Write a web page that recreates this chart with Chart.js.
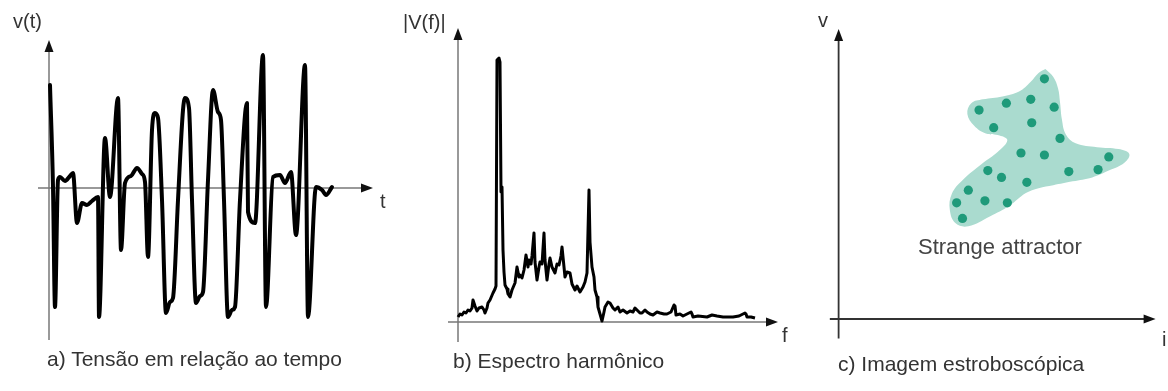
<!DOCTYPE html>
<html>
<head>
<meta charset="utf-8">
<script src="https://cdn.jsdelivr.net/npm/chart.js@4.4.1/dist/chart.umd.min.js"></script>
<style>
  html, body { margin:0; padding:0; background:#fff; }
  #wrap { position:relative; width:1168px; height:391px; overflow:hidden; background:#fff; }
  canvas { position:absolute; top:0; }
  .lbl { position:absolute; white-space:nowrap; line-height:1; font-family:"Liberation Sans", Arial, Helvetica, sans-serif; color:#333; }
</style>
</head>
<body>
<div id="wrap">
  <canvas id="cA" width="395" height="391" style="left:0px"></canvas>
  <canvas id="cB" width="400" height="391" style="left:395px"></canvas>
  <canvas id="cC" width="373" height="391" style="left:795px"></canvas>
</div>
<script>
// ---------- DATA ----------
// a) voltage vs time
const timeT = [1,4,6,9,11,16,21,24,28,33,38,43,49,50,56,61,69,72,76,82,88,93,96,99,103,106,109,113,117,121,124,129,134,136,140,143,147,151,154,159,164,169,172,175,179,183,186,191,198,199,206,214,217,224,231,236,242,247,256,259,267,273,277,283];
const timeV = [103,1,-119,8,11,7,12,15,-35,-15,-17,-13,-9,-129,50,-9,90,-62,5,12,20,14,6,-69,58,75,70,-12,-125,-114,-110,-12,78,90,80,-12,-115,-108,-104,8,98,76,68,-12,-129,-122,-119,-12,85,-24,-35,133,-119,11,13,5,16,-47,123,-129,1,-2,-7,1];
// b) harmonic spectrum
const specF = [0,2,4,6,8,10,12,14,15,17,19,21,24,26,27,29,30,32,35,37,38,39,41,42,43,44,45,46,47,49,50,52,54,57,59,61,62,64,66,68,70,71,73,74,76,77,79,81,82,84,86,87,89,91,92,94,97,99,101,103,104,106,107,109,112,114,117,119,122,125,127,129,131,132,134,136,137,139,140,142,144,146,147,150,152,155,157,160,162,165,169,172,175,177,179,182,184,187,189,192,195,199,202,206,209,213,216,217,218,222,225,229,233,234,235,240,249,254,259,265,275,281,287,288,289,293,297];
const specA = [5,8,7,10,9,12,11,14,22,16,11,14,15,12,9,14,19,22,29,33,36,262,264,260,130,135,72,50,37,33,28,25,32,39,55,45,47,44,52,67,55,62,58,66,89,60,42,55,60,58,89,62,42,58,64,55,49,58,57,66,75,55,45,50,49,38,32,36,30,35,40,49,132,80,55,45,32,25,15,8,1,10,15,20,19,14,12,15,10,12,9,11,10,14,12,9,9,12,10,8,7,10,9,8,8,10,17,16,7,8,6,8,10,8,5,6,5,7,6,5,5,6,9,8,5,5,4];
// c) stroboscopic image: attractor points and region outline
const dotI = [211,144,172,197,221,159,198,227,187,211,277,153,167,193,236,266,133,121,150,173,127];
const dotV = [246,214,221,225,217,196,201,185,170,168,166,152,145,140,151,153,132,119,121,119,103];
const blobI = [212,220,225,227,229,233,243,265,287,298,293,277,260,240,220,205,192,175,155,133,120,114,116,127,147,163,173,165,151,139,132,136,148,168,185,197,205,212];
const blobV = [256,248,236,222,204,189,180,176,174,169,160,152,145,141,137,134,129,116,105,95,98,112,128,142,159,171,183,188,190,198,210,221,225,228,233,243,252,256];
// texts
const captionA = "a) Tensão em relação ao tempo";
const captionB = "b) Espectro harmônico";
const captionC = "c) Imagem estroboscópica";
const attractorLabel = "Strange attractor";
const axisLabels = ["v(t)", "t", "|V(f)|", "f", "v", "i"];

// ---------- helpers ----------
const xy = (xs, ys) => xs.map((x, i) => ({x, y: ys[i]}));

const arrowAxes = {
  id: 'arrowAxes',
  beforeDatasetsDraw(chart, args, o) {
    const {ctx, scales:{x, y}} = chart;
    const x0 = x.getPixelForValue(0), y0 = y.getPixelForValue(0);
    const xa = x.getPixelForValue(o.xFrom), xb = x.getPixelForValue(o.xTo);
    const ya = y.getPixelForValue(o.yFrom), yb = y.getPixelForValue(o.yTo);
    ctx.save();
    ctx.strokeStyle = o.color; ctx.lineWidth = o.width;
    ctx.beginPath(); ctx.moveTo(xa, y0); ctx.lineTo(xb - o.head + 1, y0); ctx.stroke();
    ctx.beginPath(); ctx.moveTo(x0, ya); ctx.lineTo(x0, yb + o.head - 1); ctx.stroke();
    ctx.fillStyle = o.headColor;
    ctx.beginPath(); ctx.moveTo(xb, y0); ctx.lineTo(xb - o.head, y0 - o.half); ctx.lineTo(xb - o.head, y0 + o.half); ctx.closePath(); ctx.fill();
    ctx.beginPath(); ctx.moveTo(x0, yb); ctx.lineTo(x0 - o.half, yb + o.head); ctx.lineTo(x0 + o.half, yb + o.head); ctx.closePath(); ctx.fill();
    ctx.restore();
  }
};

function baseOptions(xmin, xmax, ymin, ymax, axes) {
  return {
    responsive: false, animation: false, devicePixelRatio: 1,
    layout: { padding: 0 },
    scales: {
      x: { type: 'linear', display: false, min: xmin, max: xmax },
      y: { type: 'linear', display: false, min: ymin, max: ymax }
    },
    plugins: { legend: { display: false }, tooltip: { enabled: false }, arrowAxes: axes },
    elements: { point: { radius: 0 } }
  };
}

// a)
new Chart(document.getElementById('cA'), {
  type: 'line',
  data: { datasets: [{
    data: xy(timeT, timeV), borderColor: '#000', borderWidth: 4,
    cubicInterpolationMode: 'monotone', pointRadius: 0, fill: false,
    borderJoinStyle: 'round', borderCapStyle: 'round'
  }]},
  options: baseOptions(-49, 346, -203, 188,
    { xFrom: -11, xTo: 324, yFrom: -152, yTo: 148, color: '#777', width: 1.5, headColor: '#111', head: 12, half: 4.5 }),
  plugins: [arrowAxes]
});

// b)
new Chart(document.getElementById('cB'), {
  type: 'line',
  data: { datasets: [{
    data: xy(specF, specA), borderColor: '#000', borderWidth: 3,
    tension: 0, pointRadius: 0, fill: false, borderJoinStyle: 'round'
  }]},
  options: baseOptions(-63, 337, -69, 322,
    { xFrom: -10, xTo: 320, yFrom: -20, yTo: 294, color: '#777', width: 1.5, headColor: '#111', head: 12, half: 4.5 }),
  plugins: [arrowAxes]
});

// c)
new Chart(document.getElementById('cC'), {
  type: 'line',
  data: { datasets: [
    { data: xy(dotI, dotV), showLine: false, pointRadius: 4.6, pointBackgroundColor: '#1f9a7a',
      pointBorderWidth: 0, borderColor: 'rgba(0,0,0,0)', order: 0 },
    { data: xy(blobI, blobV), tension: 0.4, pointRadius: 0, borderWidth: 0,
      borderColor: 'rgba(0,0,0,0)', backgroundColor: '#aadbcf', fill: 'shape', order: 1 }
  ]},
  options: baseOptions(-40, 333, -69, 322,
    { xFrom: -9, xTo: 325, yFrom: -20, yTo: 297, color: '#333', width: 1.8, headColor: '#111', head: 12, half: 4.5 }),
  plugins: [arrowAxes]
});

// ---------- texts ----------
const wrap = document.getElementById('wrap');
function addText(txt, left, baseline, fs, color) {
  const d = document.createElement('div');
  d.className = 'lbl'; d.textContent = txt;
  d.style.left = left + 'px';
  d.style.top = (baseline - 0.8465 * fs) + 'px';
  d.style.fontSize = fs + 'px';
  if (color) d.style.color = color;
  wrap.appendChild(d);
}
addText(axisLabels[0], 13, 28, 20);
addText(axisLabels[1], 380, 208, 20);
addText(axisLabels[2], 403, 29, 20);
addText(axisLabels[3], 782, 342, 20);
addText(axisLabels[4], 818, 27, 20);
addText(axisLabels[5], 1162, 346, 20);
addText(attractorLabel, 918, 255, 22, '#444');
addText(captionA, 47, 366, 21);
addText(captionB, 453, 368, 21);
addText(captionC, 838, 371, 21);
</script>
</body>
</html>
